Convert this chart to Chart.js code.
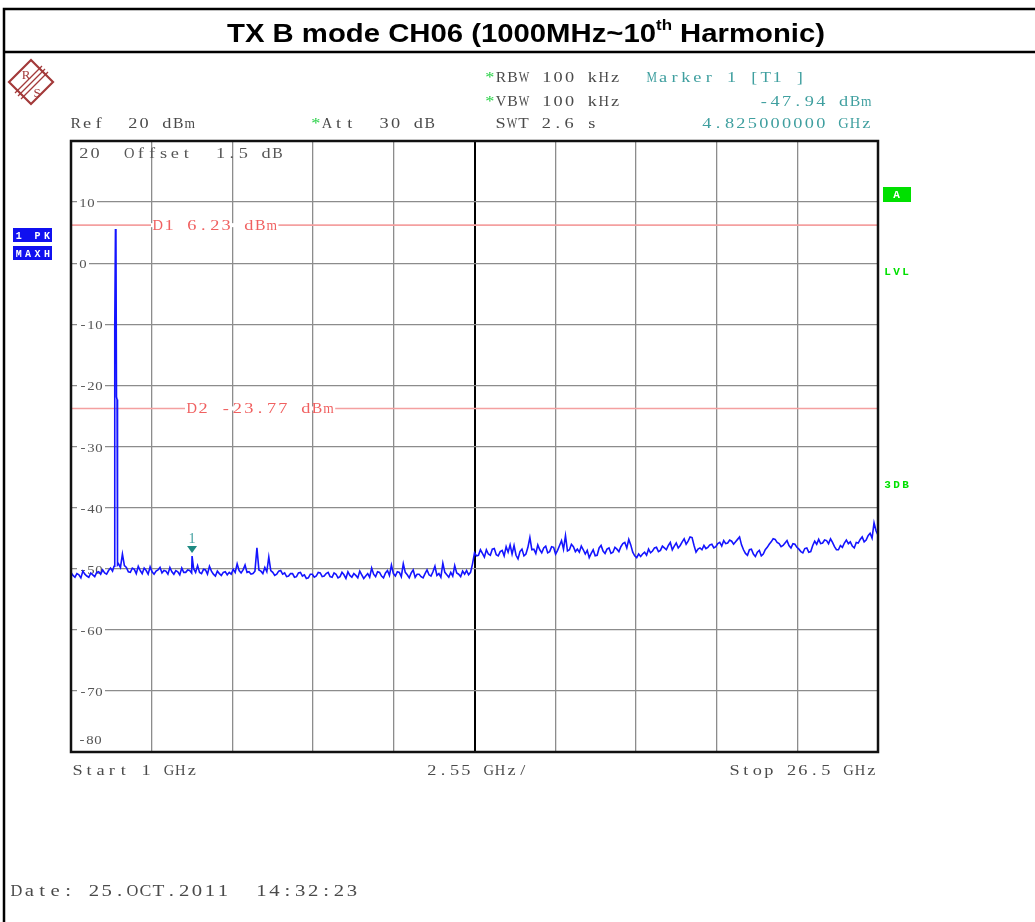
<!DOCTYPE html>
<html>
<head>
<meta charset="utf-8">
<title>TX B mode CH06</title>
<script src="https://cdn.jsdelivr.net/npm/chart.js@4.4.0/dist/chart.umd.min.js"></script>
<style>
    html, body { margin: 0; padding: 0; background: #fff; }
    canvas { display: block; }
</style>
</head>
<body>
<canvas id="spectrum" width="1035" height="922"></canvas>
<script>
// Sweep settings (frequency axis in GHz, level in dBm)
const startGHz = 1;
const stopGHz = 26.5;
const stepGHz = 0.0625;
const xGridGHz = [1, 3.55, 6.1, 8.65, 11.2, 13.75, 16.3, 18.85, 21.4, 23.95, 26.5];
const yGridDbm = [20, 10, 0, -10, -20, -30, -40, -50, -60, -70, -80];

// Max hold trace, one value per sweep step (16 per GHz)
const traceDbm = [
    -50.6, -51.1, -51.4, -50.8, -51.0, -51.5, -50.4, -50.9, -51.2, -51.4, -50.7, -51.0, -51.3, -50.6, -50.5, -50.9,
    -50.2, -50.7, -50.9, -50.3, -49.9, -50.4, -10.2, -21.9, -49.2, -49.8, -47.6, -49.5, -49.8, -50.5, -50.6, -49.9,
    -50.1, -50.8, -49.6, -50.3, -50.8, -49.9, -50.3, -50.9, -49.7, -50.5, -50.9, -50.4, -50.2, -49.8, -50.7, -50.3,
    -50.4, -50.9, -49.8, -50.5, -50.9, -50.3, -50.5, -51.0, -49.9, -50.6, -50.6, -50.2, -50.3, -50.7, -50.0, -50.6,
    -49.5, -50.6, -50.8, -50.1, -50.2, -50.9, -49.6, -50.4, -50.9, -51.2, -50.4, -50.8, -51.1, -50.6, -50.5, -51.0,
    -50.6, -50.9, -50.1, -50.6, -49.2, -50.3, -50.7, -50.2, -49.4, -50.6, -50.5, -50.9, -50.8, -50.4, -46.6, -50.2,
    -50.4, -50.8, -49.8, -50.5, -48.1, -50.3, -50.6, -51.1, -50.9, -50.4, -50.3, -50.9, -50.7, -51.3, -51.2, -50.8,
    -50.8, -51.4, -51.3, -50.7, -50.6, -51.2, -51.0, -51.6, -51.5, -50.9, -50.9, -51.4, -51.2, -50.6, -50.7, -51.3,
    -51.2, -50.8, -50.6, -51.3, -51.4, -50.7, -50.9, -51.5, -51.3, -50.6, -51.0, -51.6, -50.5, -51.1, -51.4, -50.8,
    -51.1, -51.5, -50.4, -51.0, -51.6, -51.2, -50.8, -51.4, -49.9, -50.9, -51.3, -50.5, -50.6, -51.2, -51.5, -50.7,
    -50.3, -51.1, -49.4, -50.8, -51.2, -50.5, -50.6, -51.3, -49.2, -50.6, -51.0, -51.5, -50.7, -50.2, -51.4, -50.9,
    -50.9, -51.3, -51.5, -50.8, -50.2, -51.0, -51.2, -50.5, -49.6, -51.1, -50.8, -51.4, -49.1, -50.6, -51.0, -51.4,
    -50.6, -51.2, -49.5, -50.7, -50.9, -51.3, -50.4, -50.9, -50.3, -51.0, -50.6, -49.2, -47.4, -47.9, -47.8, -46.9,
    -47.5, -48.1, -46.9, -47.6, -47.8, -46.8, -46.7, -47.7, -47.9, -47.2, -47.0, -47.9, -46.4, -47.3, -46.1, -47.6,
    -46.2, -47.8, -48.4, -47.2, -46.8, -47.9, -47.6, -46.5, -44.9, -46.9, -46.8, -47.5, -46.1, -46.9, -47.4, -46.6,
    -46.3, -47.4, -47.2, -46.4, -46.5, -47.6, -47.0, -46.2, -45.4, -46.8, -44.6, -47.1, -46.9, -46.0, -46.4, -47.2,
    -46.8, -47.3, -46.3, -46.9, -47.6, -47.0, -48.2, -47.5, -46.9, -47.9, -47.8, -46.6, -46.2, -47.1, -47.5, -46.8,
    -46.6, -47.5, -47.3, -46.5, -46.8, -47.2, -46.4, -45.9, -45.7, -46.6, -45.2, -46.1, -47.3, -47.9, -48.2, -47.6,
    -48.0, -47.6, -47.3, -47.8, -46.8, -47.4, -47.1, -46.6, -46.5, -47.2, -47.0, -46.3, -46.6, -46.9, -46.2, -45.7,
    -46.9, -46.3, -45.8, -46.6, -46.2, -45.6, -45.1, -46.0, -45.5, -44.8, -44.9, -46.2, -47.3, -46.8, -46.6, -46.9,
    -46.2, -46.7, -46.5, -46.1, -46.0, -46.6, -46.4, -45.9, -45.7, -46.3, -45.4, -45.9, -45.8, -45.3, -45.5, -46.0,
    -45.6, -45.2, -44.8, -46.1, -46.9, -47.5, -47.8, -46.9, -46.8, -47.6, -48.0, -47.3, -47.0, -47.9, -47.6, -46.9,
    -46.5, -46.0, -45.6, -45.1, -45.2, -45.7, -45.9, -46.4, -46.2, -45.8, -45.4, -46.2, -46.6, -45.9, -46.0, -46.5,
    -46.8, -47.2, -47.4, -46.7, -46.6, -47.3, -47.2, -46.2, -45.5, -46.0, -45.2, -45.9, -45.8, -45.3, -45.4, -45.9,
    -45.1, -45.7, -46.4, -46.9, -46.9, -46.2, -46.5, -45.8, -45.3, -45.9, -45.6, -46.3, -46.6, -45.7, -45.8, -45.2,
    -44.8, -45.6, -45.3, -44.6, -44.2, -45.0, -42.5, -43.8, -44.5
];

// extra points around the carrier (2.437 GHz)
const spikeGHz = [2.36, 2.39, 2.405, 2.42, 2.455, 2.47];
const spikeDbm = [-49.6, -10.4, 5.6, 5.0, -22.3, -49.4];

// Marker 1
const markerGHz = 4.825;
const markerDbm = -47.94;

// display lines
const lineNames = ["D1", "D2"];
const lineDbm = [6.23, -23.77];

// build the trace table
const tracePoints = traceDbm.map((v, i) => ({ x: startGHz + i * stepGHz, y: v }));
spikeGHz.forEach((f, i) => tracePoints.push({ x: f, y: spikeDbm[i] }));
tracePoints.push({ x: markerGHz, y: markerDbm });
tracePoints.sort((a, b) => a.x - b.x);

const SERIF = '"Liberation Serif", "DejaVu Serif", serif';
const PITCH = 11.4;
const STRETCH = 1.22; // the screen font is wider than Times

// draw text one char per cell, like the analyzer screen font
function mono(ctx, str, x, y, pitch, align, stretch) {
    const maxSx = stretch || STRETCH;
    const x0 = align === "right" ? x - str.length * pitch : x;
    ctx.textAlign = "center";
    ctx.textBaseline = "alphabetic";
    for (let i = 0; i < str.length; i++) {
        if (str[i] === " ") continue;
        const w = ctx.measureText(str[i]).width;
        const sx = Math.min(maxSx, (pitch * 0.92) / w);
        ctx.save();
        ctx.translate(x0 + pitch * (i + 0.5), y);
        ctx.scale(sx, 1);
        ctx.fillText(str[i], 0, 0);
        ctx.restore();
    }
}

function drawTitle(ctx) {
    ctx.save();
    ctx.fillStyle = "#000";
    ctx.textBaseline = "alphabetic";
    ctx.textAlign = "left";
    const big = 'bold 26px "Liberation Sans", Arial, sans-serif';
    const small = 'bold 15px "Liberation Sans", Arial, sans-serif';
    const p1 = "TX B mode CH06 (1000MHz~10", sup = "th", p2 = " Harmonic)";
    ctx.font = big;
    const w1 = ctx.measureText(p1).width, w3 = ctx.measureText(p2).width;
    ctx.font = small;
    const w2 = ctx.measureText(sup).width;
    const sx = 598 / (w1 + w2 + w3);
    ctx.setTransform(sx, 0, 0, 1, 227, 0);
    ctx.font = big;
    ctx.fillText(p1, 0, 42);
    ctx.font = small;
    ctx.fillText(sup, w1, 30);
    ctx.font = big;
    ctx.fillText(p2, w1 + w2, 42);
    ctx.restore();

    // page frame
    ctx.save();
    ctx.strokeStyle = "#000";
    ctx.lineWidth = 2.5;
    ctx.beginPath();
    ctx.moveTo(4, 922); ctx.lineTo(4, 9); ctx.lineTo(1035, 9);
    ctx.moveTo(4, 52); ctx.lineTo(1035, 52);
    ctx.stroke();
    ctx.restore();
}

function drawLogo(ctx) {
    ctx.save();
    ctx.strokeStyle = "#a33a3a";
    ctx.fillStyle = "#a33a3a";
    ctx.lineWidth = 2.2;
    ctx.beginPath();
    ctx.moveTo(31, 60); ctx.lineTo(53, 82); ctx.lineTo(31, 104); ctx.lineTo(9, 82);
    ctx.closePath();
    ctx.stroke();
    // diagonal band
    ctx.lineWidth = 1.3;
    ctx.beginPath();
    [-3, 0, 3].forEach(d => {
        ctx.moveTo(18 + d, 96 + d); ctx.lineTo(45 + d, 69 + d);
    });
    ctx.stroke();
    ctx.font = "13px " + SERIF;
    ctx.textAlign = "center";
    ctx.fillText("R", 26, 79);
    ctx.fillText("S", 37, 97);
    ctx.restore();
}

function drawHeader(ctx) {
    ctx.save();
    ctx.font = "15px " + SERIF;
    ctx.fillStyle = "#4a4a4a";
    mono(ctx, "Ref  20 dBm", 70, 128, PITCH);
    mono(ctx, " Att  30 dB", 310, 128, PITCH);
    mono(ctx, " RBW 100 kHz", 484, 82, PITCH);
    mono(ctx, " VBW 100 kHz", 484, 106, PITCH);
    mono(ctx, "SWT 2.6 s", 495, 128, PITCH);
    ctx.fillStyle = "#1fcf3f";
    mono(ctx, "*", 310, 128, PITCH);
    mono(ctx, "*", 484, 82, PITCH);
    mono(ctx, "*", 484, 106, PITCH);
    ctx.fillStyle = "#3f9f9f";
    mono(ctx, "Marker 1 [T1 ]", 646, 82, PITCH);
    mono(ctx, "-47.94 dBm", 872, 106, PITCH, "right");
    mono(ctx, "4.825000000 GHz", 872, 128, PITCH, "right");

    ctx.fillStyle = "#4a4a4a";
    mono(ctx, "Start 1 GHz", 72, 775, PITCH);
    mono(ctx, "2.55 GHz/", 426, 775, PITCH);
    mono(ctx, "Stop 26.5 GHz", 877, 775, PITCH, "right");
    ctx.font = "17px " + SERIF;
    mono(ctx, "Date: 25.OCT.2011  14:32:23", 10, 896, 12.9);

    // trace / status tags
    ctx.fillStyle = "#1010f0";
    ctx.fillRect(13, 228, 39, 14);
    ctx.fillRect(13, 246, 39, 14);
    ctx.fillStyle = "#fff";
    ctx.font = 'bold 10px "Liberation Mono", monospace';
    mono(ctx, "1 PK", 14, 239, 9.4, null, 1);
    mono(ctx, "MAXH", 14, 257, 9.4, null, 1);

    ctx.fillStyle = "#00e000";
    ctx.fillRect(883, 187, 28, 15);
    ctx.font = 'bold 11px "Liberation Mono", monospace';
    mono(ctx, "LVL", 883, 275, 9, null, 1);
    mono(ctx, "3DB", 883, 488, 9, null, 1);
    ctx.fillStyle = "#fff";
    mono(ctx, "A", 892, 198, 9, null, 1);
    ctx.restore();
}

const analyzerPlugin = {
    id: "analyzer",
    beforeDatasetsDraw(chart) {
        const ctx = chart.ctx;
        const y = chart.scales.y;
        const area = chart.chartArea;
        ctx.save();
        ctx.font = "13px " + SERIF;
        yGridDbm.forEach(v => {
            if (v === 20 || v === -80) return;
            const py = y.getPixelForValue(v);
            const txt = String(v);
            ctx.fillStyle = "#fff";
            ctx.fillRect(area.left + 6, py - 3, txt.length * 8 + 4, 6);
            ctx.fillStyle = "#555";
            mono(ctx, txt, area.left + 8, py + 5, 8, null, 1.15);
        });
        mono(ctx, "-80", area.left + 7, y.getPixelForValue(-80) - 8, 8, null, 1.15);
        ctx.font = "15px " + SERIF;
        mono(ctx, "20  Offset  1.5 dB", area.left + 7, area.top + 17, PITCH);
        ctx.restore();
    },
    afterDatasetsDraw(chart) {
        const ctx = chart.ctx;
        const x = chart.scales.x, y = chart.scales.y;
        const area = chart.chartArea;
        ctx.save();
        // display line labels
        ctx.font = "15px " + SERIF;
        const labelX = [152, 186];
        lineNames.forEach((name, i) => {
            const py = y.getPixelForValue(lineDbm[i]);
            const txt = name + " " + lineDbm[i].toFixed(2) + " dBm";
            ctx.fillStyle = "#fff";
            ctx.fillRect(labelX[i] - 1, py - 2, txt.length * PITCH + 2, 4);
            ctx.fillStyle = "#f06060";
            mono(ctx, txt, labelX[i], py + 5, PITCH);
        });
        // marker 1
        const mx = x.getPixelForValue(markerGHz), my = y.getPixelForValue(markerDbm);
        ctx.fillStyle = "#1e8a82";
        ctx.beginPath();
        ctx.moveTo(mx - 5, my - 10);
        ctx.lineTo(mx + 5, my - 10);
        ctx.lineTo(mx, my - 3);
        ctx.closePath();
        ctx.fill();
        ctx.fillStyle = "#3f9f9f";
        ctx.font = "14px " + SERIF;
        ctx.textAlign = "center";
        ctx.fillText("1", mx, my - 13);
        // plot frame
        ctx.strokeStyle = "#111";
        ctx.lineWidth = 2.5;
        ctx.strokeRect(area.left, area.top, area.right - area.left, area.bottom - area.top);
        ctx.restore();
    },
    afterDraw(chart) {
        const ctx = chart.ctx;
        drawTitle(ctx);
        drawLogo(ctx);
        drawHeader(ctx);
    }
};

const lineDatasets = lineNames.map((name, i) => ({
    label: name,
    data: [{ x: startGHz, y: lineDbm[i] }, { x: stopGHz, y: lineDbm[i] }],
    borderColor: "#f4a0a0",
    borderWidth: 1.6,
    pointRadius: 0,
    order: 2
}));

const ctx = document.getElementById("spectrum").getContext("2d");
const spectrumChart = new Chart(ctx, {
    type: "line",
    data: {
        datasets: [{
            label: "1 PK MAXH",
            data: tracePoints,
            borderColor: "#1414ff",
            borderWidth: 1.6,
            pointRadius: 0,
            tension: 0,
            order: 1
        }].concat(lineDatasets)
    },
    options: {
        responsive: false,
        animation: false,
        devicePixelRatio: 1,
        layout: { padding: { left: 71, top: 141, right: 157, bottom: 170 } },
        plugins: {
            legend: { display: false },
            tooltip: { enabled: false }
        },
        scales: {
            x: {
                type: "linear",
                min: startGHz,
                max: stopGHz,
                afterBuildTicks: scale => { scale.ticks = xGridGHz.map(v => ({ value: v })); },
                ticks: { display: false },
                border: { display: false },
                grid: {
                    drawTicks: false,
                    color: c => c.index === 5 ? "#000" : "#8c8c8c",
                    lineWidth: c => c.index === 5 ? 2 : 1.3
                }
            },
            y: {
                type: "linear",
                min: -80,
                max: 20,
                afterBuildTicks: scale => { scale.ticks = yGridDbm.map(v => ({ value: v })); },
                ticks: { display: false },
                border: { display: false },
                grid: {
                    drawTicks: false,
                    color: "#8c8c8c",
                    lineWidth: 1.3
                }
            }
        }
    },
    plugins: [analyzerPlugin]
});
</script>
</body>
</html>
